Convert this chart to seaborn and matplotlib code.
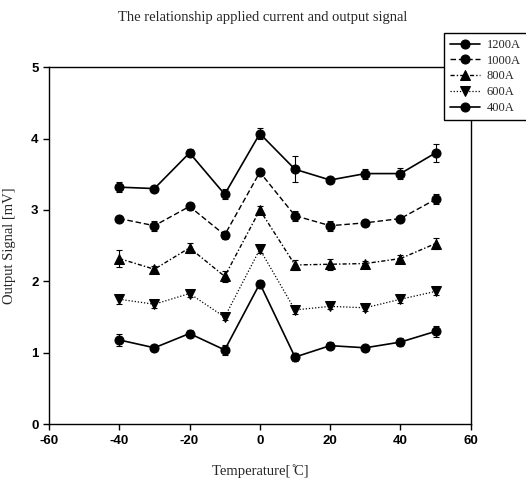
import seaborn as sns
import matplotlib
matplotlib.use("Agg")
import matplotlib.pyplot as plt
import pandas as pd

temps = [-40, -30, -20, -10, 0, 10, 20, 30, 40, 50]
currents = ['1200A', '1000A', '800A', '600A', '400A']

sig_1200 = [3.32, 3.30, 3.80, 3.22, 4.07, 3.57, 3.42, 3.51, 3.51, 3.80]
sig_1000 = [2.88, 2.78, 3.05, 2.65, 3.53, 2.92, 2.78, 2.82, 2.88, 3.15]
sig_800 = [2.32, 2.17, 2.47, 2.07, 3.00, 2.23, 2.24, 2.25, 2.32, 2.53]
sig_600 = [1.75, 1.68, 1.83, 1.50, 2.45, 1.60, 1.65, 1.63, 1.75, 1.86]
sig_400 = [1.18, 1.07, 1.27, 1.04, 1.97, 0.94, 1.10, 1.07, 1.15, 1.30]

err_1200 = [0.07, 0.04, 0.05, 0.07, 0.08, 0.18, 0.04, 0.07, 0.08, 0.13]
err_1000 = [0.04, 0.07, 0.05, 0.05, 0.04, 0.07, 0.07, 0.04, 0.04, 0.07]
err_800 = [0.12, 0.04, 0.07, 0.08, 0.05, 0.07, 0.08, 0.04, 0.05, 0.08]
err_600 = [0.06, 0.05, 0.05, 0.04, 0.05, 0.06, 0.04, 0.05, 0.05, 0.05]
err_400 = [0.08, 0.04, 0.05, 0.07, 0.05, 0.05, 0.05, 0.04, 0.06, 0.08]

signals = [sig_1200, sig_1000, sig_800, sig_600, sig_400]
errors = [err_1200, err_1000, err_800, err_600, err_400]

sns.set_style("ticks")
plt.rcParams['axes.unicode_minus'] = False

# line style, marker, width per current
styles = {
    '1200A': ('-', 'o', 1.2),
    '1000A': ((0, (4, 2)), 'o', 1.0),
    '800A': ((0, (3, 1.5, 1, 1.5)), '^', 1.0),
    '600A': ((0, (1, 1.5)), 'v', 0.9),
    '400A': ('-', 'o', 1.2),
}

fig = plt.figure(figsize=(5.26, 4.87), dpi=100)
ax = fig.add_axes([0.093, 0.129, 0.802, 0.733])

for name, sig, err in zip(currents, signals, errors):
    df = pd.DataFrame({'Temperature': temps, 'Signal': sig})
    ls, mk, lw = styles[name]
    sns.lineplot(data=df, x='Temperature', y='Signal', ax=ax, color='black',
                 linestyle=ls, marker=mk, markersize=6.5, linewidth=lw,
                 markeredgecolor='black', label=name)
    ax.errorbar(temps, sig, yerr=err, fmt='none', ecolor='black',
                elinewidth=0.8, capsize=2.5, capthick=0.8)

ax.set_xlim(-60, 60)
ax.set_ylim(0, 5)
ax.set_xticks([-60, -40, -20, 0, 20, 40, 60])
ax.set_yticks([0, 1, 2, 3, 4, 5])
for spine in ax.spines.values():
    spine.set_visible(True)
    spine.set_color('black')
    spine.set_linewidth(1.0)
ax.tick_params(direction='out', length=4, width=1, colors='black')
for lab in ax.get_xticklabels() + ax.get_yticklabels():
    lab.set_family(['Liberation Sans', 'DejaVu Sans'])
    lab.set_fontweight('bold')
    lab.set_fontsize(9.5)

serif = ['Liberation Serif', 'DejaVu Serif']
ax.set_xlabel('Temperature[ ̊C]', family=serif, fontsize=10.5, labelpad=13)
ax.set_ylabel('Output Signal [mV]', family=serif, fontsize=10.5, labelpad=11)
fig.text(0.5, 0.965, 'The relationship applied current and output signal',
         ha='center', va='center', family=serif, fontsize=10.5)

handles, labels = ax.get_legend_handles_labels()
ax.get_legend().remove()
leg = fig.legend(handles, labels, loc='upper left', bbox_to_anchor=(0.844, 0.933),
                 frameon=True, fancybox=False, edgecolor='black', framealpha=1,
                 prop={'family': serif, 'size': 9},
                 handlelength=2.4, borderpad=0.5, labelspacing=0.3,
                 handletextpad=0.5, borderaxespad=0)
leg.get_frame().set_linewidth(1.0)

fig.savefig('out.png', dpi=100)
